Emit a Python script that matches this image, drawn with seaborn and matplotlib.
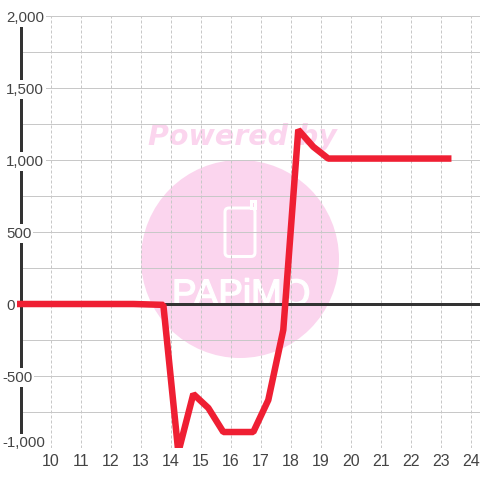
import matplotlib
matplotlib.use('Agg')
import matplotlib.pyplot as plt
import matplotlib.patheffects as pe
from matplotlib.patches import Circle, FancyBboxPatch, Rectangle
from matplotlib.transforms import IdentityTransform, blended_transform_factory
import pandas as pd
import seaborn as sns

# half hour readings
hours = [8.75, 9.25, 9.75, 10.25, 10.75, 11.25, 11.75, 12.25, 12.75, 13.25, 13.75, 14.25, 14.75, 15.25, 15.75,
         16.25, 16.75, 17.25, 17.75, 18.25, 18.75, 19.25, 19.75, 20.25, 20.75, 21.25, 21.75, 22.25, 22.75, 23.25]
values = [0, 0, 0, 0, 0, 0, 0, 0, 0, -3, -6, -1030, -625, -722, -889,
          -889, -889, -667, -180, 1210, 1092, 1010, 1010, 1010, 1010, 1010, 1010, 1010, 1010, 1010]

x_ticks = list(range(10, 25))
y_ticks = [-1000, -750, -500, -250, 250, 500, 750, 1000, 1250, 1500, 1750, 2000]
y_labels = ['2,000', '1,500', '1,000', '500', '0', '-500', '-1,000']
y_label_vals = [2000, 1500, 1000, 500, 0, -500, -1000]

px = 0.72  # one pixel in points at dpi 100
grid_col = '#c8c8c8'
text_col = '#444444'
dark = '#333333'
red = '#ef1f33'
pink = '#fbd5ee'

sns.set_theme(style='white')
plt.rcParams['font.family'] = ['Liberation Sans', 'DejaVu Sans']

fig = plt.figure(figsize=(4.8, 4.8), dpi=100)
ax = fig.add_axes([17 / 480, 32 / 480, 463 / 480, 432 / 480])
ax.set_xlim(8.87, 24.31)
ax.set_ylim(-1000, 2000)
sns.despine(ax=ax, left=True, bottom=True)

# watermark, in pixels from the lower left corner
pix = IdentityTransform()
ax.add_patch(Circle((240, 480 - 259), 99, fc=pink, ec='none', transform=pix, clip_on=False, zorder=0))
ax.add_patch(FancyBboxPatch((225, 480 - 256.5), 30, 48.5, boxstyle='round,pad=0,rounding_size=4', fc='none', ec='white',
                            lw=3 * px, transform=pix, clip_on=False, zorder=0.5))
ax.add_patch(Rectangle((251, 480 - 208), 4, 7, fc='none', ec='white', lw=3 * px, transform=pix, clip_on=False, zorder=0.5))
ax.text(148, 480 - 145, 'Powered by', family='DejaVu Sans', weight='bold', style='italic', fontsize=20.5, color=pink,
        transform=pix, clip_on=False, zorder=0.5, va='baseline', ha='left')
ax.text(172, 480 - 305, 'PAPiMO', fontsize=26.5, color='white', transform=pix, clip_on=False, zorder=0.5,
        va='baseline', ha='left', path_effects=[pe.withStroke(linewidth=1, foreground='white')])

# grid
ax.hlines(y_ticks, 9, 24.31, color=grid_col, lw=1 * px, zorder=1)
ax.vlines(x_ticks, -1000, 2000, color=grid_col, lw=1 * px, linestyles=(0, (3, 2)), zorder=1)

# axis lines
ax.vlines(9, -1000, 2000, color=dark, lw=3 * px, zorder=2)
ax.hlines(0, 9, 24.31, color=dark, lw=3 * px, zorder=2)

df = pd.DataFrame({'hour': hours, 'value': values})
sns.lineplot(data=df, x='hour', y='value', ax=ax, color=red, lw=6.5 * px, errorbar=None, zorder=3,
             solid_capstyle='projecting', solid_joinstyle='bevel')
ax.set_xlabel('')
ax.set_ylabel('')

ax.set_xticks(x_ticks)
ax.set_yticks([])
ax.tick_params(axis='x', length=0, pad=4, labelsize=11.5, labelcolor=text_col)

trans = blended_transform_factory(pix, ax.transData)
for val, lab in zip(y_label_vals, y_labels):
    # the lowest label is lifted so it stays clear of the x labels
    pos = val + 45 if val == -1000 else val
    ax.text(2 if val < 0 else 6, pos, lab, transform=trans, fontsize=10.8, color=text_col, ha='left',
            va='center_baseline', clip_on=False, zorder=4,
            bbox=dict(fc='white', ec='none', pad=1.5))

fig.savefig('out.png', dpi=100)
